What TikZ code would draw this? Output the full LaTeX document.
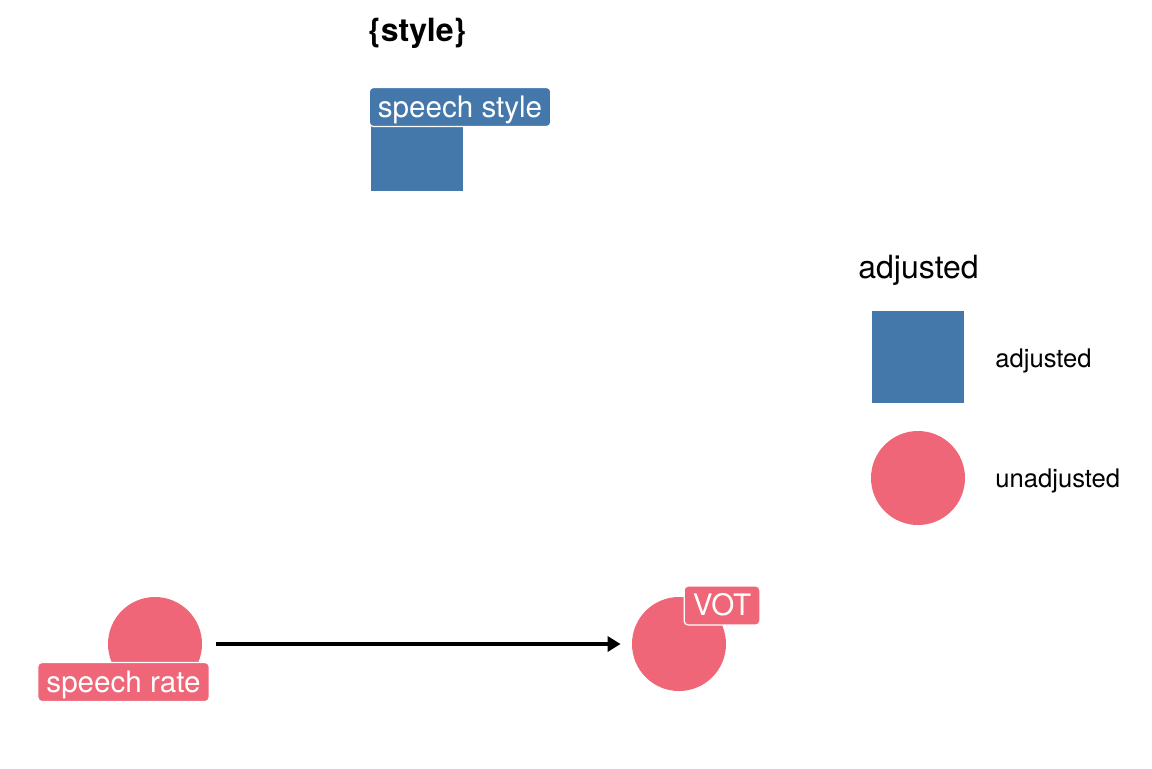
\documentclass[tikz,border=0pt]{standalone}
\usepackage{fontspec}
\setmainfont{TeX Gyre Heros}
\usetikzlibrary{arrows.meta}
\definecolor{adjblue}{HTML}{4477AA}
\definecolor{unadjred}{HTML}{EE6677}
\tikzset{
    adjnode/.style={rectangle, fill=adjblue, minimum size=46pt, inner sep=0pt},
    unadjnode/.style={circle, fill=unadjred, minimum size=47pt, inner sep=0pt},
    lbl/.style={rounded corners=2pt, draw=white, line width=0.6pt, text=white,
        font=\fontsize{14.8}{16}\selectfont, inner xsep=4.3pt, inner ysep=0pt,
        text height=11.5pt, text depth=1.5pt, minimum height=19.5pt},
    keytext/.style={anchor=base west, font=\fontsize{12.8}{14}\selectfont, inner sep=0pt},
}
\begin{document}
\begin{tikzpicture}[x=0.5pt, y=-0.5pt]
    \useasboundingbox (0,0) rectangle (1152,768);
    % title
    \node[anchor=base west, inner sep=0pt, font=\bfseries\fontsize{16}{18}\selectfont] (title) at (368,41) {\{style\}};

    % dag nodes
    \node[adjnode] (style) at (417,145) {};
    \node[unadjnode] (rate) at (155,644) {};
    \node[unadjnode] (vot) at (679,644) {};

    % edge
    \draw[-{Triangle[length=6.5pt,width=7.5pt]}, line width=1.6pt,
        shorten <=7pt, shorten >=5.5pt] (rate) -- (vot);

    % labels
    \node[lbl, fill=adjblue] (stylelbl) at (460,107) {speech style};
    \node[lbl, fill=unadjred] (ratelbl) at (123.5,682) {speech rate};
    \node[lbl, fill=unadjred] (votlbl) at (722,605.5) {VOT};

    % legend
    \node[anchor=base west, inner sep=0pt, font=\fontsize{16}{18}\selectfont] (legtitle) at (858,278) {adjusted};
    \node[adjnode] (keyadj) at (918,357) {};
    \node[unadjnode] (keyunadj) at (918,478) {};
    \node[keytext] (keyadjtxt) at (995,367) {adjusted};
    \node[keytext] (keyunadjtxt) at (995,487) {unadjusted};
\end{tikzpicture}
\end{document}
